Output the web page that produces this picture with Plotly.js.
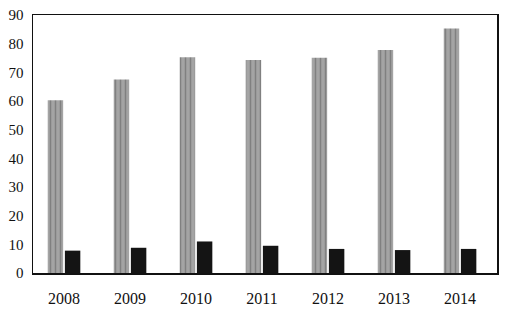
<!DOCTYPE html>
<html>
<head>
<meta charset="utf-8">
<script src="https://cdn.plot.ly/plotly-3.0.1.min.js"></script>
<style>
html,body{margin:0;padding:0;background:#fff;}
#chart{width:514px;height:318px;}
</style>
</head>
<body>
<div id="chart"></div>
<script>
var years = ["2008", "2009", "2010", "2011", "2012", "2013", "2014"];
var grayValues = [60.3, 67.5, 75.3, 74.3, 75.1, 77.8, 85.3];
var blackValues = [7.8, 8.8, 11.0, 9.5, 8.4, 8.0, 8.4];
var yTicks = [0, 10, 20, 30, 40, 50, 60, 70, 80, 90];

var traces = [
  {
    type: "bar",
    x: years,
    y: grayValues,
    marker: {
      color: "#9c9c9c",
      line: {width: 0},
      pattern: {shape: "|", fgcolor: "#808080", bgcolor: "#a4a4a4", size: 5, solidity: 0.3}
    },
    hoverinfo: "skip"
  },
  {
    type: "bar",
    x: years,
    y: blackValues,
    marker: {color: "#141414", line: {width: 0}},
    hoverinfo: "skip"
  }
];

var layout = {
  width: 514,
  height: 318,
  margin: {l: 33, r: 17, t: 15, b: 45},
  paper_bgcolor: "#ffffff",
  plot_bgcolor: "#ffffff",
  showlegend: false,
  barmode: "group",
  bargap: 0.48,
  bargroupgap: 0.1,
  font: {family: "Liberation Serif, Times New Roman, serif", color: "#111"},
  xaxis: {
    type: "category",
    range: [-0.47, 6.56],
    showline: true,
    linecolor: "#111",
    linewidth: 1.5,
    mirror: true,
    ticks: "",
    showgrid: false,
    zeroline: false,
    tickfont: {size: 16, family: "Liberation Serif, serif", color: "#111"},
    ticklabelstandoff: 10
  },
  yaxis: {
    range: [0, 90],
    tickvals: yTicks,
    ticktext: yTicks.map(String),
    showline: true,
    linecolor: "#111",
    linewidth: 1.5,
    mirror: true,
    ticks: "",
    showgrid: false,
    zeroline: false,
    tickfont: {size: 15, family: "Liberation Serif, serif", color: "#111"},
    ticklabelstandoff: 5
  }
};

Plotly.newPlot("chart", traces, layout, {staticPlot: true, displayModeBar: false});
</script>
</body>
</html>
